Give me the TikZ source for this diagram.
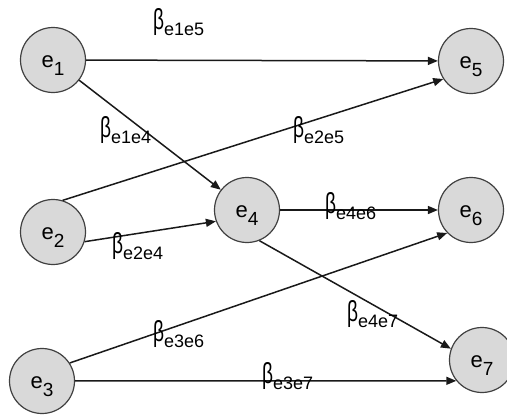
\documentclass[tikz,border=0pt]{standalone}
\usepackage{fontspec}
\setmainfont{Liberation Sans}
\usetikzlibrary{arrows.meta}

% variable node: e with a lowered index
\newcommand{\evar}[1]{\raisebox{-7pt}[0pt][0pt]{\fontsize{22}{22}\selectfont e\raisebox{-8pt}{\fontsize{19}{19}\selectfont #1}}}
% coefficient label: beta with a lowered index
\newcommand{\coef}[1]{\scalebox{0.66}[1]{\fontsize{29}{29}\selectfont β}\raisebox{-6pt}{\fontsize{18}{18}\selectfont #1}}

\begin{document}
\begin{tikzpicture}[x=1pt,y=-1pt,
  varnode/.style={circle, minimum size=65pt, inner sep=0pt,
    draw=black!75, line width=1.2pt, fill=black!15},
  conn/.style={draw=black!90, line width=1.5pt,
    -{Triangle[length=10pt,width=8pt]}},
  coeflabel/.style={anchor=north west, inner sep=0pt, text=black}]
\useasboundingbox (0,0) rectangle (507,415);

% variables
\node[varnode] (e1) at (53,60)  {\evar{1}};
\node[varnode] (e2) at (53,232) {\evar{2}};
\node[varnode] (e3) at (42,381) {\evar{3}};
\node[varnode] (e4) at (247,210) {\evar{4}};
\node[varnode] (e5) at (471,61) {\evar{5}};
\node[varnode] (e6) at (471,210) {\evar{6}};
\node[varnode] (e7) at (482,360) {\evar{7}};

% directed effects
\draw[conn] (e1) -- (e5);
\draw[conn] (e1) -- (e4);
\draw[conn] (e2.73) -- (e5.213);
\draw[conn] (e2.343) -- (e4.200);
\draw[conn] (e4) -- (e6);
\draw[conn] (e4.-68) -- (e7.160);
\draw[conn] (e3.33) -- (e6.224);
\draw[conn] (e3) -- (e7.219);

% coefficients
\node[coeflabel] (b15) at (153,8)   {\coef{e1e5}};
\node[coeflabel] (b14) at (100,116) {\coef{e1e4}};
\node[coeflabel] (b25) at (293,116) {\coef{e2e5}};
\node[coeflabel] (b24) at (112,232) {\coef{e2e4}};
\node[coeflabel] (b46) at (325,192) {\coef{e4e6}};
\node[coeflabel] (b47) at (347,300) {\coef{e4e7}};
\node[coeflabel] (b36) at (153,320) {\coef{e3e6}};
\node[coeflabel] (b37) at (262,362) {\coef{e3e7}};
\end{tikzpicture}
\end{document}
